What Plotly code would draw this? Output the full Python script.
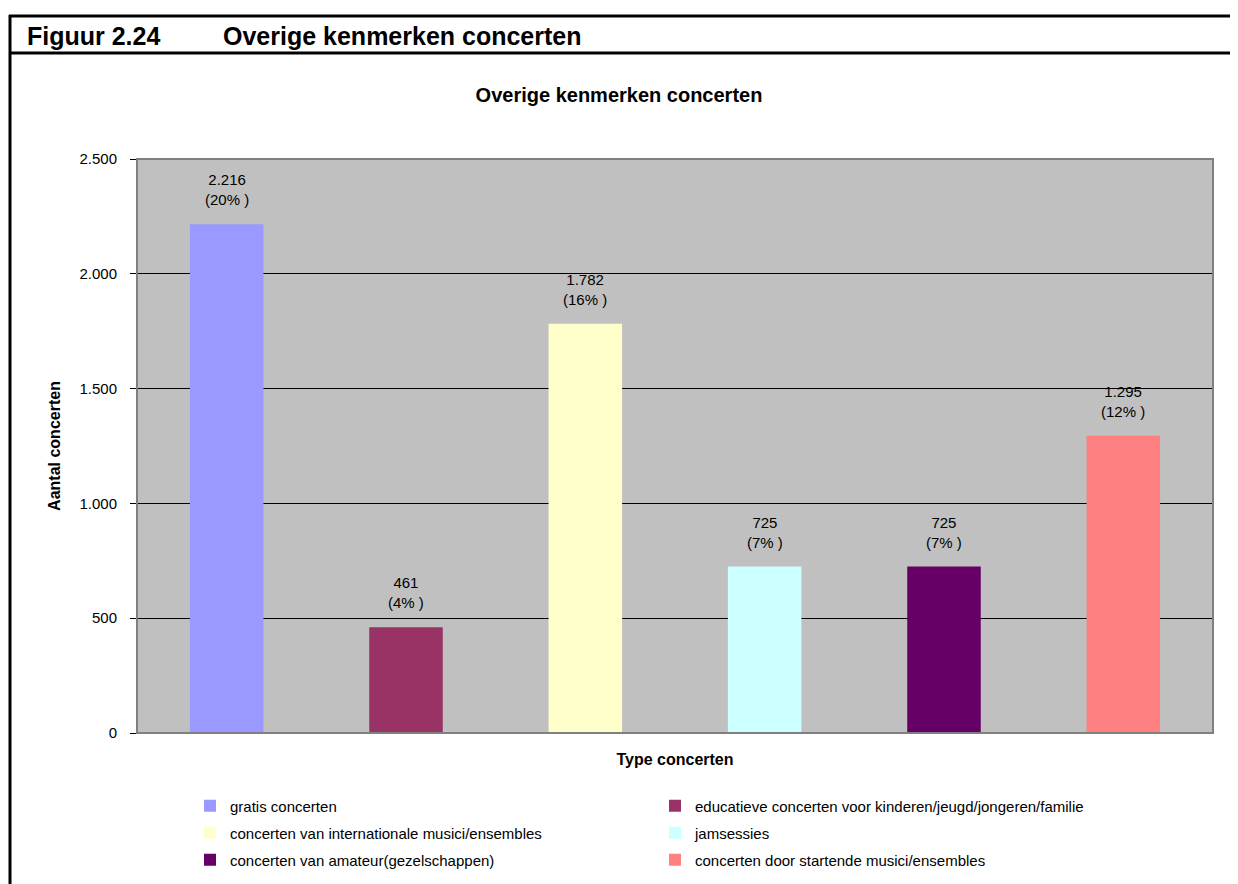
import plotly.graph_objects as go

# ---- data ----
categories = [
    "gratis concerten",
    "educatieve concerten voor kinderen/jeugd/jongeren/familie",
    "concerten van internationale musici/ensembles",
    "jamsessies",
    "concerten van amateur(gezelschappen)",
    "concerten door startende musici/ensembles",
]
values = [2216, 461, 1782, 725, 725, 1295]
percentages = [20, 4, 16, 7, 7, 12]
colors = ["#9999FF", "#993366", "#FFFFCC", "#CCFFFF", "#660066", "#FF8080"]
y_ticks = [0, 500, 1000, 1500, 2000, 2500]
y_ticktext = ["0", "500", "1.000", "1.500", "2.000", "2.500"]

OFF = 8  # page body margin
W, H = 1238 - OFF, 884 - OFF
# plot area in screen px
L, R, T, B = 137, 1213, 159, 733
FONT = "Liberation Sans, Arial, sans-serif"


def px_x(px):
    return (px - L) / (R - L)


def px_y(py):
    return (B - py) / (B - T)


fig = go.Figure()

legend_ids = ["legend", "legend", "legend2", "legend2", "legend3", "legend3"]
for cat, val, col, lg in zip(categories, values, colors, legend_ids):
    fig.add_trace(go.Bar(
        x=[cat], y=[val], name=cat, width=0.41,
        marker=dict(color=col, line=dict(width=0)),
        legend=lg, showlegend=True,
    ))

for cat, val, pct in zip(categories, values, percentages):
    txt = f"{val:,}".replace(",", ".") + f"<br>({pct}% )"
    fig.add_annotation(x=cat, y=val, text=txt, showarrow=False,
                       xref="x", yref="y", yanchor="bottom", yshift=14,
                       font=dict(family=FONT, size=15, color="black"))

# header texts
fig.add_annotation(xref="paper", yref="paper", x=px_x(25), y=px_y(36),
                   xanchor="left", yanchor="middle", showarrow=False,
                   text="<b>Figuur 2.24</b>",
                   font=dict(family=FONT, size=25, color="black"))
fig.add_annotation(xref="paper", yref="paper", x=px_x(221), y=px_y(36),
                   xanchor="left", yanchor="middle", showarrow=False,
                   text="<b>Overige kenmerken concerten</b>",
                   font=dict(family=FONT, size=25, color="black"))

# frame lines
fig.add_shape(type="line", xref="paper", yref="paper",
              x0=px_x(9), x1=px_x(1250), y0=px_y(16), y1=px_y(16),
              line=dict(color="black", width=3))
fig.add_shape(type="line", xref="paper", yref="paper",
              x0=px_x(9), x1=px_x(1250), y0=px_y(53), y1=px_y(53),
              line=dict(color="black", width=3))
fig.add_shape(type="line", xref="paper", yref="paper",
              x0=px_x(10), x1=px_x(10), y0=px_y(15), y1=px_y(900),
              line=dict(color="black", width=3))
# plot border (gray)
fig.add_shape(type="rect", xref="paper", yref="paper",
              x0=0, x1=1, y0=0, y1=1,
              line=dict(color="#808080", width=2), layer="above")

legend_common = dict(orientation="h", xanchor="left", yanchor="middle",
                     font=dict(family=FONT, size=15, color="black"),
                     entrywidth=420, entrywidthmode="pixels",
                     bgcolor="rgba(0,0,0,0)", itemwidth=30,
                     traceorder="normal")

fig.update_layout(
    width=W, height=H,
    margin=dict(l=L - OFF, r=W - (R - OFF), t=T - OFF, b=H - (B - OFF),
                autoexpand=False),
    paper_bgcolor="white",
    plot_bgcolor="#C0C0C0",
    barmode="overlay",
    separators=",.",
    font=dict(family=FONT, color="black"),
    title=dict(text="<b>Overige kenmerken concerten</b>",
               x=(619 - OFF) / W, xref="container", xanchor="center",
               y=1 - (95 - OFF) / H, yref="container", yanchor="middle",
               font=dict(family=FONT, size=20, color="black")),
    xaxis=dict(showticklabels=False, showgrid=False, showline=False,
               ticks="", zeroline=False,
               title=dict(text="<b>Type concerten</b>", standoff=20,
                          font=dict(family=FONT, size=16, color="black"))),
    yaxis=dict(range=[0, 2500], tickvals=y_ticks, ticktext=y_ticktext,
               showgrid=True, gridcolor="black", gridwidth=1,
               showline=True, linecolor="black", linewidth=1,
               ticks="outside", ticklen=6, tickcolor="black",
               ticklabelstandoff=10, zeroline=False,
               tickfont=dict(family=FONT, size=15, color="black"),
               title=dict(text="<b>Aantal concerten</b>", standoff=14,
                          font=dict(family=FONT, size=16, color="black"))),
    legend=dict(x=px_x(190), y=px_y(806), **legend_common),
    legend2=dict(x=px_x(190), y=px_y(833), **legend_common),
    legend3=dict(x=px_x(190), y=px_y(860), **legend_common),
)

fig.write_html("out.html")
